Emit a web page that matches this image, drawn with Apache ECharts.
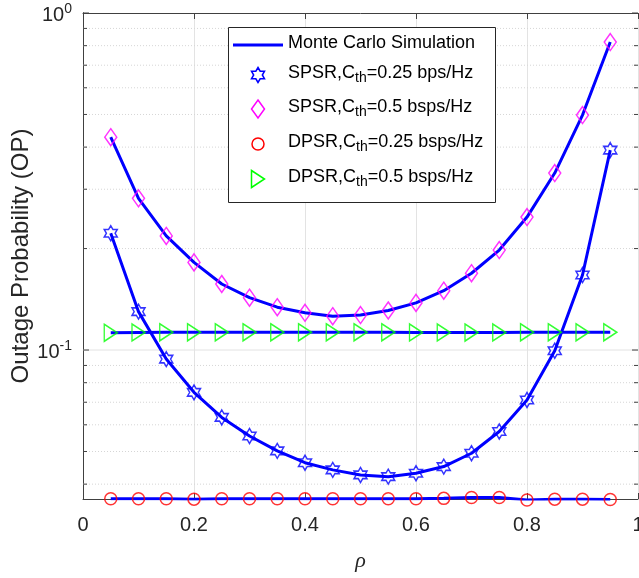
<!DOCTYPE html>
<html><head><meta charset="utf-8">
<script src="https://cdn.jsdelivr.net/npm/echarts@6/dist/echarts.min.js"></script>
<style>html,body{margin:0;padding:0;background:#fff}#c{width:639px;height:578px}</style>
</head><body><div id="c"></div>
<script>
const rho = [0.05,0.10,0.15,0.20,0.25,0.30,0.35,0.40,0.45,0.50,0.55,0.60,0.65,0.70,0.75,0.80,0.85,0.90,0.95];
const spsr025 = [0.222,0.130,0.0940,0.0749,0.0631,0.0556,0.0502,0.0463,0.0441,0.0426,0.0421,0.0431,0.0451,0.0494,0.0573,0.0711,0.0995,0.167,0.392];
const spsr05  = [0.428,0.282,0.218,0.182,0.157,0.143,0.134,0.129,0.126,0.127,0.131,0.138,0.150,0.169,0.198,0.248,0.335,0.498,0.820];
const dpsr025 = [0.0362,0.0362,0.0362,0.0361,0.0362,0.0362,0.0362,0.0362,0.0362,0.0362,0.0362,0.0362,0.0363,0.0365,0.0365,0.0359,0.0361,0.0361,0.0360];
const dpsr05  = [0.1125,0.1128,0.1129,0.1129,0.1129,0.1129,0.1129,0.1129,0.1129,0.1129,0.1129,0.1128,0.1128,0.1127,0.1128,0.1129,0.1129,0.1129,0.1129];
const xTicks = [0,0.2,0.4,0.6,0.8,1];
const yMajor = [0.1,1];
const yMajorExp = ['-1','0'];
const yMinor = [0.04,0.05,0.06,0.07,0.08,0.09,0.2,0.3,0.4,0.5,0.6,0.7,0.8,0.9];
const legendNames = ['Monte Carlo Simulation','SPSR,C','SPSR,C','DPSR,C','DPSR,C'];
const legendTails = ['','=0.25 bps/Hz','=0.5 bsps/Hz','=0.25 bsps/Hz','=0.5 bsps/Hz'];

const YMIN = 0.03614, YMAX = 1;
const BLUE = '#0000ff', MAG = '#ff00ff', RED = '#ff0000', GRN = '#00ff00';
const TXT = '#262626', AX = '#404040';
const STAR = 'path://M10,0L12.887,5L18.66,5L15.774,10L18.66,15L12.887,15L10,20L7.113,15L1.34,15L4.226,10L1.34,5L7.113,5Z';
const DIAM = 'path://M6,0L12,8.5L6,17L0,8.5Z';
const TRI = 'path://M0,0L13,8.5L0,17Z';
const FONT = '"Liberation Sans", Arial, Helvetica, sans-serif';

function pairs(ys){ return rho.map((x,i)=>[x,ys[i]]); }
function lineS(ys){ return {type:'line', data:pairs(ys), showSymbol:false, symbol:'none', lineStyle:{color:BLUE,width:3}, z:3, silent:true, animation:false}; }
function markS(ys, sym, size, col){ return {type:'scatter', data:pairs(ys), symbol:sym, symbolSize:size, symbolKeepAspect:false,
  itemStyle:{color:'rgba(0,0,0,0)', borderColor:col, borderWidth:1.5}, z:4, silent:true, animation:false, clip:false}; }

const gridVals = yMinor.map(v=>[0,v,0,'']).concat(yMajor.map((v,i)=>[0,v,1,yMajorExp[i]]));

const option = {
  animation:false,
  backgroundColor:'#fff',
  grid:{left:83, right:1, top:13, bottom:79, show:false, containLabel:false, outerBoundsMode:'none'},
  xAxis:[{
    type:'value', min:0, max:1, interval:0.2, position:'bottom',
    axisLine:{show:true, lineStyle:{color:AX,width:1}},
    axisTick:{show:true, inside:true, length:6, lineStyle:{color:AX}},
    axisLabel:{color:TXT, fontFamily:FONT, fontSize:20, margin:16, formatter:v=>String(+v.toFixed(1))},
    splitLine:{show:true, lineStyle:{color:'#e3e3e3', width:1}},
    name:'\u03c1', nameLocation:'middle', nameGap:51,
    nameTextStyle:{fontFamily:'"Liberation Serif", "DejaVu Serif", serif', fontStyle:'italic', fontSize:22, color:TXT}
  },{
    type:'value', min:0, max:1, interval:0.2, position:'top',
    axisLine:{show:true, lineStyle:{color:AX,width:1}},
    axisTick:{show:true, inside:true, length:6, lineStyle:{color:AX}},
    axisLabel:{show:false}, splitLine:{show:false}
  }],
  yAxis:[{
    type:'log', logBase:10, min:YMIN, max:YMAX, position:'left',
    axisLine:{show:true, lineStyle:{color:AX,width:1}},
    axisTick:{show:false}, splitLine:{show:false}, minorTick:{show:false},
    axisLabel:{show:false},
    name:'Outage Probability (OP)', nameLocation:'middle', nameGap:50,
    nameTextStyle:{fontFamily:FONT, fontSize:24, color:TXT}
  },{
    type:'log', logBase:10, min:YMIN, max:YMAX, position:'right',
    axisLine:{show:true, lineStyle:{color:AX,width:1}},
    axisTick:{show:false}, axisLabel:{show:false}, splitLine:{show:false}
  }],
  series:[
    {type:'custom', coordinateSystem:'cartesian2d', data:gridVals, z:1, silent:true, clip:false,
     renderItem:function(params, api){
       const v = api.value(1), major = api.value(2)===1;
       const p0 = api.coord([0,v]), p1 = api.coord([1,v]);
       const tl = major ? 6 : 4;
       const kids = [];
       if (v < 0.999) kids.push({type:'line', shape:{x1:p0[0],y1:p0[1],x2:p1[0],y2:p1[1]},
         style:{stroke: major ? '#e3e3e3' : '#d6d6d6', lineWidth:1, lineDash: major ? null : [1,2]}});
       kids.push({type:'line', shape:{x1:p0[0],y1:p0[1],x2:p0[0]+tl,y2:p0[1]}, style:{stroke:AX,lineWidth:1}, z2:5});
       kids.push({type:'line', shape:{x1:p1[0]-tl,y1:p1[1],x2:p1[0],y2:p1[1]}, style:{stroke:AX,lineWidth:1}, z2:5});
       if (major) {
         const ex = api.value(3);
         kids.push({type:'text', x:p0[0]-11, y:p0[1]+1, style:{
           text:'{b|10}{s|'+ex+'}', align:'right', verticalAlign:'middle',
           rich:{ b:{fontFamily:FONT,fontSize:20,fill:TXT,verticalAlign:'bottom',lineHeight:23},
                  s:{fontFamily:FONT,fontSize:14,fill:TXT,verticalAlign:'top',lineHeight:14} } }});
       }
       return {type:'group', children:kids};
     }},
    lineS(spsr05), lineS(dpsr05), lineS(spsr025), lineS(dpsr025),
    markS(spsr05, DIAM, [12,17], MAG),
    markS(dpsr05, TRI, [13,17], GRN),
    markS(spsr025, STAR, [13,15], BLUE),
    markS(dpsr025, 'circle', 12, RED)
  ],
  graphic:[]
};

// legend (drawn as graphic)
const LX = 228, LY = 27, LW = 267, LH = 175;
const rowY = [45, 75, 109, 144, 179];
const SX = 258;
const g = [{type:'rect', shape:{x:LX+0.5,y:LY+0.5,width:LW,height:LH}, style:{fill:'#fff', stroke:TXT, lineWidth:1}, z:100}];
g.push({type:'line', shape:{x1:233,y1:rowY[0],x2:283,y2:rowY[0]}, style:{stroke:BLUE,lineWidth:3}, z:101});
function starPts(cx, cy, w, h){
  const pts = [];
  for (let k=0;k<12;k++){
    const a = k*Math.PI/6, r = (k%2===0) ? 1 : 1/Math.sqrt(3);
    pts.push([cx + r*Math.sin(a)*(w/2)/0.866, cy - r*Math.cos(a)*(h/2)]);
  }
  return pts;
}
for (let i=0;i<5;i++){
  const y = rowY[i];
  if (i===1) g.push({type:'polygon', shape:{points:starPts(SX,y,13,15)}, style:{fill:'none',stroke:BLUE,lineWidth:1.5}, z:101});
  if (i===2) g.push({type:'polygon', shape:{points:[[SX,y-9],[SX+6.5,y],[SX,y+9],[SX-6.5,y]]}, style:{fill:'none',stroke:MAG,lineWidth:1.5}, z:101});
  if (i===3) g.push({type:'circle', shape:{cx:SX,cy:y,r:6}, style:{fill:'none',stroke:RED,lineWidth:1.5}, z:101});
  if (i===4) g.push({type:'polygon', shape:{points:[[SX-6.5,y-8.5],[SX+6.5,y],[SX-6.5,y+8.5]]}, style:{fill:'none',stroke:GRN,lineWidth:1.5}, z:101});
  const txt = i===0 ? '{m|'+legendNames[i]+'}' : '{m|'+legendNames[i]+'}{s|th}{m|'+legendTails[i]+'}';
  g.push({type:'text', x:288, y:y, z:101, style:{text:txt, verticalAlign:'middle', align:'left',
    rich:{ m:{fontFamily:FONT,fontSize:18,fill:'#000',verticalAlign:'top',lineHeight:21},
           s:{fontFamily:FONT,fontSize:14,fill:'#000',verticalAlign:'bottom',lineHeight:14} } }});
}
option.graphic = g;

const chart = echarts.init(document.getElementById('c'), null, {renderer:'canvas'});
chart.setOption(option);
</script></body></html>
